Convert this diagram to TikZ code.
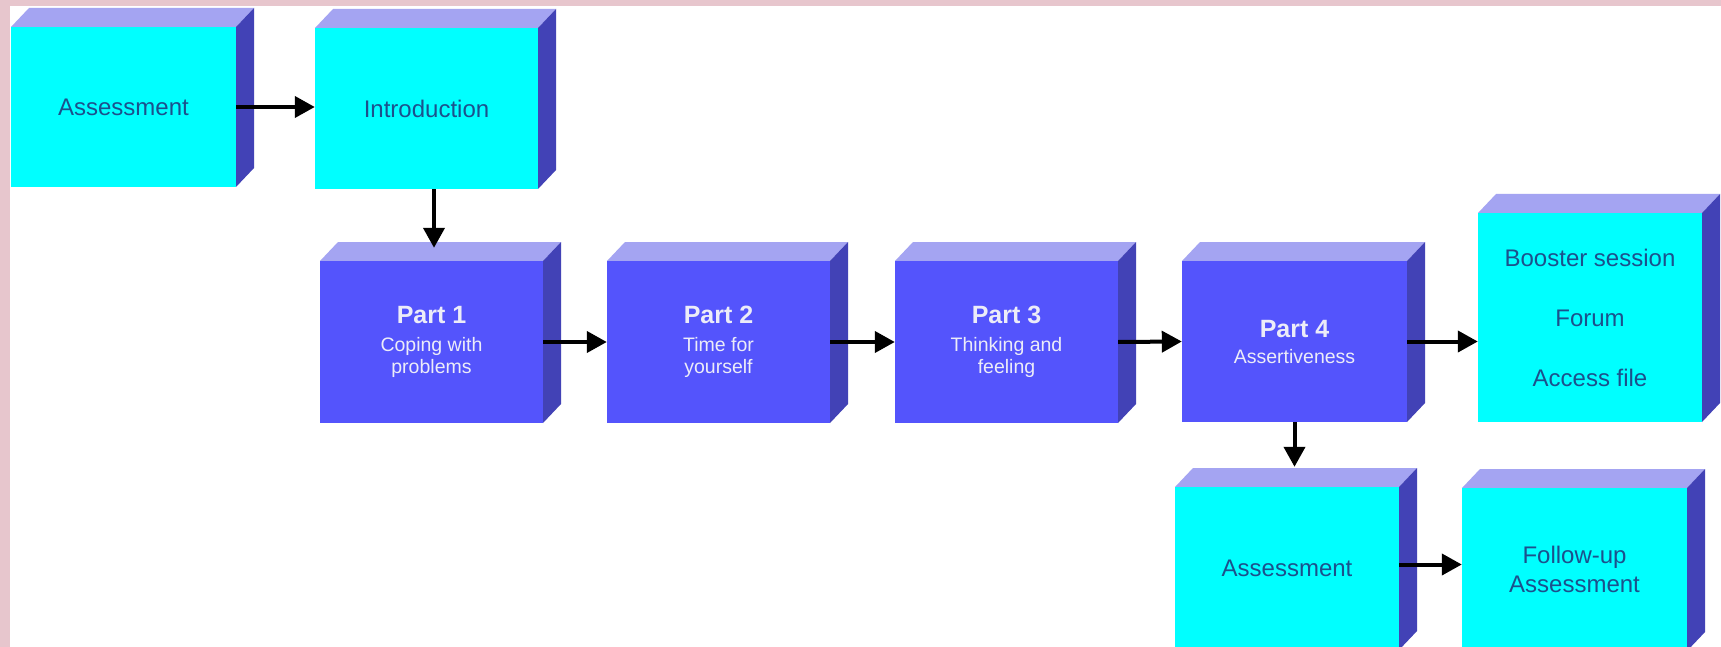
\documentclass[tikz,border=0pt]{standalone}
\usepackage{fontspec}
\setmainfont{Liberation Sans}
\usetikzlibrary{arrows.meta,calc}
\definecolor{bgpink}{RGB}{231,198,205}
\definecolor{cyanfront}{RGB}{0,255,255}
\definecolor{purfront}{RGB}{84,84,252}
\definecolor{topc}{RGB}{164,164,242}
\definecolor{sidec}{RGB}{66,66,182}
\definecolor{cyantext}{RGB}{28,80,140}
\definecolor{purtext}{RGB}{236,236,248}

\tikzset{
  topface/.style={fill=topc},
  sideface/.style={fill=sidec},
  cyanbox/.style={rectangle, fill=cyanfront, inner sep=0pt, text=cyantext, align=center, font=\fontsize{24}{29}\selectfont},
  purbox/.style={rectangle, fill=purfront, inner sep=0pt, text=purtext, align=center, font=\fontsize{19.5}{22}\selectfont},
  arr/.style={draw=black, line width=4pt, -{Triangle[length=20pt,width=21pt]}},
}

\newcommand{\cubebox}[7]{%
  \fill[topface] (#2,#3) -- ({#2+18},{#3-19}) -- ({#4+18},{#3-19}) -- (#4,#3) -- cycle;
  \fill[sideface] (#4,#3) -- ({#4+18},{#3-19}) -- ({#4+18},{#5-19}) -- (#4,#5) -- cycle;
  \node[#6, minimum width={(#4-#2)*1pt}, minimum height={(#5-#3)*1pt}] (#1) at ({(#2+#4)/2},{(#3+#5)/2}) {#7};
}
\newcommand{\parttitle}[1]{{\fontsize{25}{30}\selectfont\bfseries #1}}

\begin{document}
\begin{tikzpicture}[x=1pt,y=-1pt]
\useasboundingbox (0,0) rectangle (1721,647);
\clip (0,0) rectangle (1721,647);
\fill[bgpink] (0,0) rectangle (1721,647);
\fill[white] (10,6) rectangle (1721,647);

\cubebox{a1}{11}{27}{236}{187}{cyanbox}{Assessment}
\cubebox{intro}{315}{28}{538}{189}{cyanbox}{Introduction}
\cubebox{p1}{320}{261}{543}{423}{purbox}{\parttitle{Part 1}\\[6pt]Coping with\\problems}
\cubebox{p2}{607}{261}{830}{423}{purbox}{\parttitle{Part 2}\\[6pt]Time for\\yourself}
\cubebox{p3}{895}{261}{1118}{423}{purbox}{\parttitle{Part 3}\\[6pt]Thinking and\\feeling}
\cubebox{p4}{1182}{261}{1407}{422}{purbox}{\parttitle{Part 4}\\[4pt]Assertiveness}
\cubebox{bo}{1478}{213}{1702}{422}{cyanbox, font=\fontsize{24}{60}\selectfont}{Booster session\\Forum\\Access file}
\cubebox{a2}{1175}{487}{1399}{650}{cyanbox}{Assessment}
\cubebox{fu}{1462}{488}{1687}{651}{cyanbox}{Follow-up\\Assessment}

\draw[arr] (a1.east) -- (a1.east -| intro.west);
\draw[arr] ($(p1.north |- intro.south)+(2.5,0)$) -- ($(p1.north)+(2.5,-13)$);
\draw[arr] (p1.east) -- (p2.west);
\draw[arr] (p2.east) -- (p3.west);
\draw[arr] (p3.east) -- (p4.west);
\draw[arr] (p4.east) -- (p4.east -| bo.west);
\draw[arr] (p4.south) -- ($(p4.south |- a2.north)+(0,-20)$);
\draw[arr] ($(a2.east)+(0,-4)$) -- ($(a2.east -| fu.west)+(0,-4)$);
\end{tikzpicture}
\end{document}
